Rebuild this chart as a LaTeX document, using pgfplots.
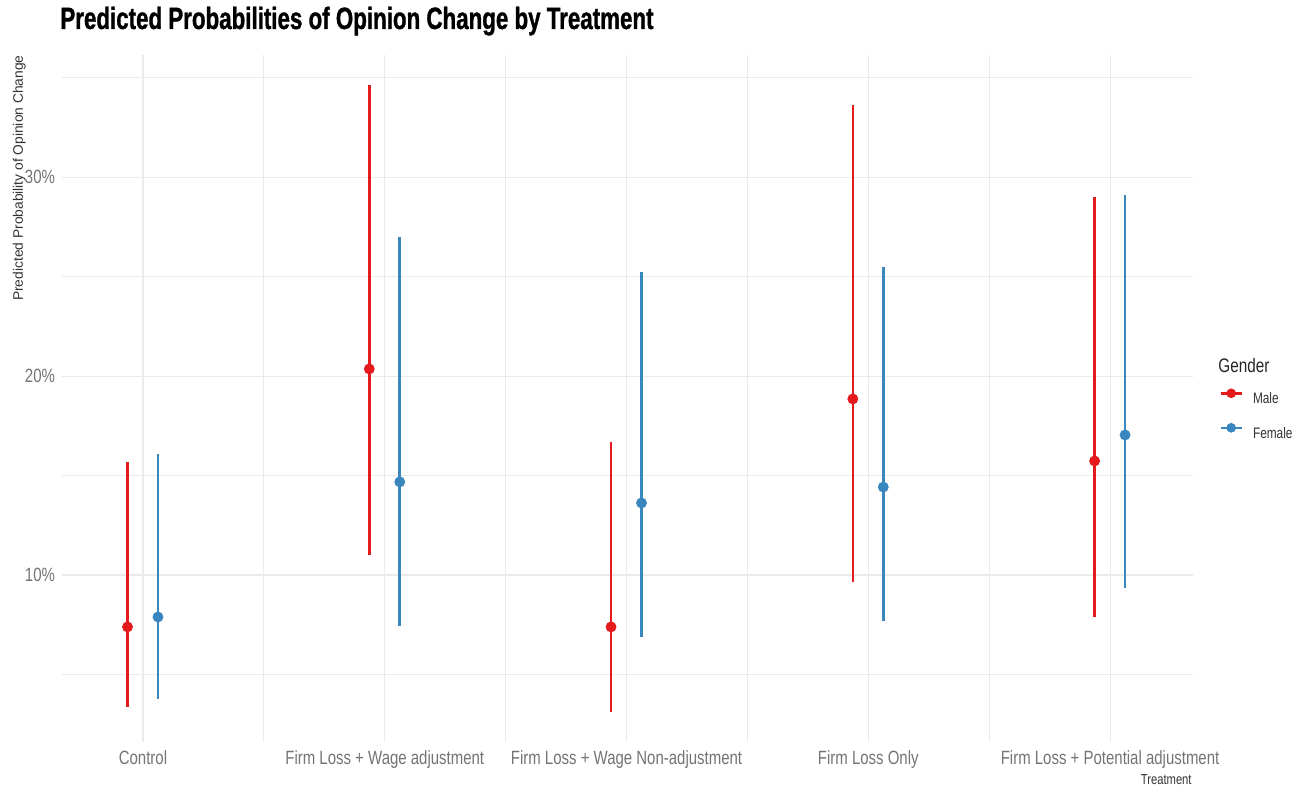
\documentclass[border=0pt]{standalone}
\usepackage{pgfplots}
\pgfplotsset{compat=1.18}
\usepackage{pgfplotstable}
\usepackage{fontspec}
\setmainfont{Liberation Sans}[FakeStretch=0.78]
\newfontfamily\plainsans{Liberation Sans}
\newfontfamily\titlefont{Liberation Sans}[FakeStretch=0.725, BoldFeatures={FakeBold=1}]
\definecolor{mred}{HTML}{E41A1C}
\definecolor{mblue}{HTML}{3A87C0}
\definecolor{gridc}{HTML}{EAEAEA}
\definecolor{tickc}{HTML}{747474}
\definecolor{labc}{HTML}{333333}

% x = category position (dodged), y = predicted %, lo/hi = interval ends
\pgfplotstableread{
x      y      lo     hi
0.936  7.39   3.36   15.68
1.936  20.36  11.00  34.64
2.936  7.39   3.11   16.69
3.936  18.85  9.65   33.63
4.936  15.73  7.89   29.00
}\male
\pgfplotstableread{
x      y      lo     hi
1.062  7.89   3.77   16.08
2.062  14.68  7.44   27.00
3.062  13.62  6.88   25.23
4.062  14.42  7.69   25.49
5.062  17.04  9.35   29.10
}\female

\begin{document}
\begin{tikzpicture}
\useasboundingbox (-31pt,-23pt) rectangle (616.5pt,371pt);
\begin{axis}[
  at={(0pt,0pt)}, anchor=south west,
  scale only axis, width=565.5pt, height=343.5pt,
  xmin=0.665, xmax=5.343, ymin=1.604, ymax=36.14,
  axis line style={draw=none},
  major tick length=0pt, minor tick length=0pt,
  xtick={1,2,3,4,5},
  xticklabels={Control, Firm Loss + Wage adjustment, Firm Loss + Wage Non-adjustment, Firm Loss Only, Firm Loss + Potential adjustment},
  minor xtick={1.5,2.5,3.5,4.5},
  ytick={10,20,30},
  yticklabels={10\%,20\%,30\%},
  minor ytick={5,15,25,35},
  grid=both,
  major grid style={draw=gridc, line width=0.55pt},
  minor grid style={draw=gridc, line width=0.55pt},
  xticklabel style={font=\fontsize{9.6}{11}\selectfont, text=tickc, anchor=base, yshift=-11pt},
  yticklabel style={font=\fontsize{9.6}{11}\selectfont, text=tickc},
  legend style={at={(1,0.5)}, anchor=west, xshift=13pt, yshift=-7.5pt,
    draw=none, fill=none, inner sep=0pt, row sep=9.5pt, column sep=5pt,
    font=\fontsize{7.6}{9}\selectfont, text=labc,
    nodes={inner sep=0pt, text height=5.5pt, text depth=0pt}},
  legend cell align=left,
]
\addplot[forget plot, only marks, mark=none, color=mred,
  error bars/.cd, y dir=both, y explicit, error mark=none,
  error bar style={line width=1.3pt, mred}]
  table[x=x, y=y, y error plus expr=\thisrow{hi}-\thisrow{y}, y error minus expr=\thisrow{y}-\thisrow{lo}] {\male};
\addplot[forget plot, only marks, mark=none, color=mblue,
  error bars/.cd, y dir=both, y explicit, error mark=none,
  error bar style={line width=1.3pt, mblue}]
  table[x=x, y=y, y error plus expr=\thisrow{hi}-\thisrow{y}, y error minus expr=\thisrow{y}-\thisrow{lo}] {\female};
\addplot[only marks, mark=*, mark size=2.5pt, color=mred, mark options={draw=mred, fill=mred},
  legend image code/.code={\draw[mred, line width=1.3pt] (0pt,2.6pt) -- (10.5pt,2.6pt); \fill[mred] (5.25pt,2.6pt) circle (2.2pt);}]
  table[x=x, y=y] {\male};
\addlegendentry{Male}
\addplot[only marks, mark=*, mark size=2.5pt, color=mblue, mark options={draw=mblue, fill=mblue},
  legend image code/.code={\draw[mblue, line width=1.3pt] (0pt,2.6pt) -- (10.5pt,2.6pt); \fill[mblue] (5.25pt,2.6pt) circle (2.2pt);}]
  table[x=x, y=y] {\female};
\addlegendentry{Female}
\end{axis}
\node[anchor=base west, inner sep=0pt, font={\titlefont\bfseries\fontsize{15.4}{18}\selectfont}] at (-1pt,356.5pt) {Predicted Probabilities of Opinion Change by Treatment};
\node[rotate=90, anchor=base east, inner sep=0pt, text=labc, font={\plainsans\fontsize{6.9}{8}\selectfont}] at (-19.5pt,343.5pt) {Predicted Probability of Opinion Change};
\node[anchor=base east, inner sep=0pt, text=labc, font={\fontsize{7.2}{8}\selectfont}] at (565pt,-21pt) {Treatment};
\node[anchor=base west, inner sep=0pt, text=black!85, font={\fontsize{9.8}{11}\selectfont}] at (578pt,185pt) {Gender};
\end{tikzpicture}
\end{document}
